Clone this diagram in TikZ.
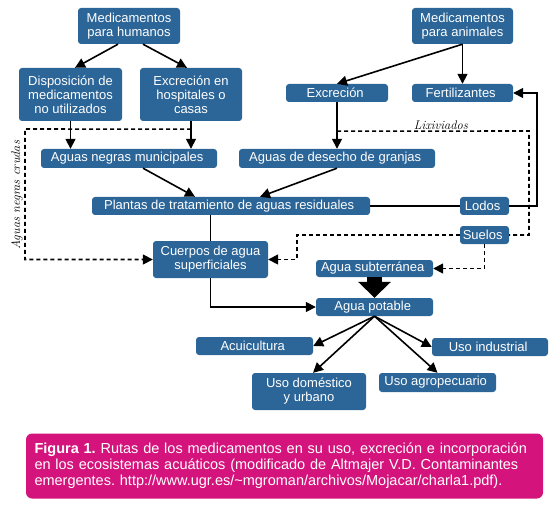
\documentclass[tikz,border=0pt]{standalone}
\usepackage{fontspec}
\usetikzlibrary{arrows.meta}
\usepackage{xcolor}

\newfontfamily\boxfont{Liberation Sans}
\definecolor{boxblue}{RGB}{44,101,151}
\definecolor{captionpink}{RGB}{212,20,124}

\begin{document}
\begin{tikzpicture}[x=1pt, y=-1pt,
    >={Triangle[length=10pt, width=10pt]},
    every node/.style={
    rectangle,
    rounded corners=3pt,
    inner sep=0pt,
    align=center,
    text=white,
    fill=boxblue,
    font=\boxfont\fontsize{13}{14}\selectfont
},
    note/.style={fill=none, text=black, font=\itshape\fontsize{12.5}{12.5}\selectfont},
    link/.style={line width=1.6pt},
    leak/.style={link, dash pattern=on 4pt off 3pt}
]

\useasboundingbox (0, 0) rectangle (560, 508);



    \node (medicamentos_humanos) [minimum width=102pt, minimum height=36pt, shift={(129, 26)}]
    {
        Medicamentos\\para humanos
    };

    \node (disposicion) [minimum width=103pt, minimum height=53pt, shift={(70.5, 94.5)}]
    {
        Disposición de\\medicamentos\\no utilizados
    };

    \node (excrecion_hospitales) [minimum width=102pt, minimum height=53pt, shift={(191, 94.5)}]
    {
        Excreción en\\hospitales o\\casas
    };

    \node (aguas_negras) [minimum width=176pt, minimum height=19pt, shift={(129, 158.5)}]
    {
        Aguas negras municipales
    };



    \node (medicamentos_animales) [minimum width=101pt, minimum height=36pt, shift={(462.5, 26)}]
    {
        Medicamentos\\para animales
    };

    \node (excrecion) [minimum width=102pt, minimum height=18pt, shift={(337, 93)}]
    {
        Excreción
    };

    \node (fertilizantes) [minimum width=101pt, minimum height=18pt, shift={(462.5, 93)}]
    {
        Fertilizantes
    };

    \node (aguas_granjas) [minimum width=196pt, minimum height=19pt, shift={(337, 158.5)}]
    {
        Aguas de desecho de granjas
    };



    \node (plantas) [minimum width=278pt, minimum height=18pt, shift={(231, 206)}]
    {
        Plantas de tratamiento de aguas residuales
    };

    \node (lodos) [minimum width=49pt, minimum height=18pt, shift={(484.5, 206)}]
    {
        Lodos
    };

    \node (suelos) [minimum width=49pt, minimum height=18pt, shift={(484.5, 235)}]
    {
        Suelos
    };

    \node (cuerpos) [minimum width=115pt, minimum height=37pt, shift={(210.5, 259.5)}]
    {
        Cuerpos de agua\\superficiales
    };

    \node (agua_subterranea) [minimum width=117pt, minimum height=17pt, shift={(374.5, 268.5)}]
    {
        Agua subterránea
    };

    \node (agua_potable) [minimum width=117pt, minimum height=18pt, shift={(374.5, 307)}]
    {
        Agua potable
    };



    \node (acuicultura) [minimum width=117pt, minimum height=18pt, shift={(254.5, 346)}]
    {
        Acuicultura
    };

    \node (uso_industrial) [minimum width=116pt, minimum height=18pt, shift={(490, 347)}]
    {
        Uso industrial
    };

    \node (uso_agropecuario) [minimum width=117pt, minimum height=19pt, shift={(437.5, 382.5)}]
    {
        Uso agropecuario
    };

    \node (uso_domestico) [minimum width=114pt, minimum height=37pt, shift={(309, 391.5)}]
    {
        Uso doméstico\\y urbano
    };



    \node (crudas_label) [note, shift={(17, 193)}, rotate=90]
    {
        Aguas negras crudas
    };

    \node (lixiviados_label) [note, shift={(443, 125)}]
    {
        Lixiviados
    };

    \coordinate (crudas_corner) at (25, 129);
    \coordinate (lixiviados_corner) at (529, 131);
    \coordinate (suelos_corner) at (297, 235);
    \coordinate (lodos_corner) at (537, 206);


    \node (figura_caption) [fill=captionpink, rounded corners=6pt, minimum width=517pt, minimum height=65pt,
        text width=500pt, align=left, font=\boxfont\fontsize{14.5}{16}\selectfont\frenchspacing, shift={(284.5, 466)}]
    {
        \makebox[500pt][s]{\textbf{Figura 1.} Rutas de los medicamentos en su uso, excreción e incorporación}\\
        \makebox[500pt][s]{en los ecosistemas acuáticos (modificado de Altmajer V.D. Contaminantes}\\
        emergentes. http://www.ugr.es/\textasciitilde mgroman/archivos/Mojacar/charla1.pdf).
    };


    \draw[->, link] ([xshift=-11pt]medicamentos_humanos.south) to ([xshift=4.5pt]disposicion.north);
    \draw[->, link] ([xshift=14pt]medicamentos_humanos.south) to ([xshift=-4pt]excrecion_hospitales.north);
    \draw[->, link] (disposicion.south) to (disposicion.south |- aguas_negras.north);
    \draw[->, link] (excrecion_hospitales.south) to (excrecion_hospitales.south |- aguas_negras.north);
    \draw[->, link] ([xshift=14pt]aguas_negras.south) to ([xshift=-36pt]plantas.north);

    \draw[->, link] (medicamentos_animales.south) to (excrecion.north);
    \draw[->, link] (medicamentos_animales.south) to (fertilizantes.north);
    \draw[->, link] (excrecion.south) to (aguas_granjas.north);
    \draw[->, link] (aguas_granjas.south) to ([xshift=29pt]plantas.north);

    \draw[link] (plantas.east) to (lodos.west);
    \draw[->, link] (lodos.east) -- (lodos_corner) |- (fertilizantes.east);
    \draw[link] (plantas.south -| cuerpos.north) to (cuerpos.north);
    \draw[->, link] (cuerpos.south) |- (agua_potable.west);
    \draw[line width=15pt, -{Triangle[length=16pt, width=32pt]}] (agua_subterranea) to (agua_potable);

    \draw[->, leak] ([yshift=-8pt]excrecion_hospitales.south) -- (crudas_corner) |- (cuerpos.west);
    \draw[leak] ([yshift=-29pt]excrecion.south) -- (lixiviados_corner) |- (suelos.east);
    \draw[->, leak] (suelos.west) -- (suelos_corner) |- (cuerpos.east);
    \draw[->, leak] (suelos.south) |- (agua_subterranea.east);

    \draw[->, link] (agua_potable.south) to (acuicultura.east);
    \draw[->, link] (agua_potable.south) to ([xshift=4pt]uso_domestico.north);
    \draw[->, link] (agua_potable.south) to (uso_industrial.west);
    \draw[->, link] (agua_potable.south) to (uso_agropecuario.north);


\end{tikzpicture}
\end{document}
